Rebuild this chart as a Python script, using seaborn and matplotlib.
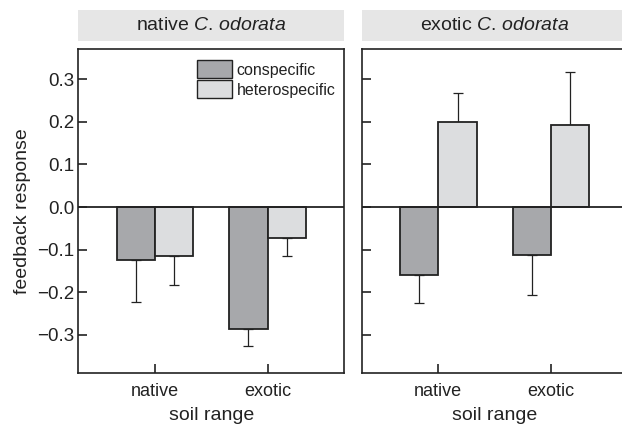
import matplotlib
matplotlib.use("Agg")
import matplotlib.pyplot as plt
import seaborn as sns
import pandas as pd
import numpy as np
from matplotlib.patches import Rectangle

# data
soil_range = ["native", "exotic"]
feedback_type = ["conspecific", "heterospecific"]
panels = ["native", "exotic"]

native_plant_con = [-0.125, -0.286]
native_plant_het = [-0.116, -0.073]
native_plant_con_err = [0.098, 0.039]
native_plant_het_err = [0.066, 0.041]

exotic_plant_con = [-0.160, -0.113]
exotic_plant_het = [0.200, 0.192]
exotic_plant_con_err = [0.065, 0.094]
exotic_plant_het_err = [0.067, 0.124]

y_ticks = [-0.3, -0.2, -0.1, 0.0, 0.1, 0.2, 0.3]

sns.set_style("white")
plt.rcParams["font.family"] = ["Liberation Sans", "DejaVu Sans"]
plt.rcParams["mathtext.fontset"] = "custom"
plt.rcParams["mathtext.rm"] = "Liberation Sans"
plt.rcParams["mathtext.it"] = "Liberation Sans:italic"

ink = "#222222"
colors = {"conspecific": "#a7a8ab", "heterospecific": "#dcdddf"}

fig = plt.figure(figsize=(6.22, 4.26), dpi=100)
W, H = 622, 426
ax_w = 266 / W
bottom = 1 - 373.3 / H
height = (373.3 - 49.3) / H
ax1 = fig.add_axes([78.3 / W, bottom, ax_w, height])
ax2 = fig.add_axes([361.7 / W, bottom, ax_w, height])

panel_data = [
    (ax1, native_plant_con, native_plant_het, native_plant_con_err, native_plant_het_err, "native"),
    (ax2, exotic_plant_con, exotic_plant_het, exotic_plant_con_err, exotic_plant_het_err, "exotic"),
]

for ax, con, het, con_err, het_err, name in panel_data:
    df = pd.DataFrame({
        "soil": soil_range * 2,
        "type": [feedback_type[0]] * 2 + [feedback_type[1]] * 2,
        "response": con + het,
    })
    sns.barplot(data=df, x="soil", y="response", hue="type", order=soil_range,
                hue_order=feedback_type, palette=colors, width=0.68, errorbar=None,
                edgecolor=ink, linewidth=1.3, saturation=1, ax=ax, zorder=2)
    errs = [con_err, het_err]
    vals = [con, het]
    for cont, e, v in zip(ax.containers, errs, vals):
        for bar, ei, vi in zip(cont, e, v):
            x = bar.get_x() + bar.get_width() / 2
            yerr = [[ei], [0]] if vi < 0 else [[0], [ei]]
            ax.errorbar(x, vi, yerr=yerr, fmt="none", ecolor=ink, elinewidth=0.9,
                        capsize=3.5, capthick=0.9, zorder=1)
    ax.axhline(0, color=ink, lw=1.3, zorder=3)
    ax.set_ylim(-0.39, 0.37)
    ax.set_xlim(-0.68, 1.68)
    ax.set_yticks(y_ticks)
    ax.set_xlabel("soil range", fontsize=14, color=ink, labelpad=5)
    ax.tick_params(axis="both", direction="in", length=6.5, width=1.2, color=ink,
                   labelcolor=ink, bottom=True, left=True)
    ax.tick_params(axis="x", labelsize=13, pad=7)
    ax.tick_params(axis="y", labelsize=13.5, pad=3)
    for s in ax.spines.values():
        s.set_color(ink)
        s.set_linewidth(1.2)
    # strip header
    ax.add_patch(Rectangle((0, 1 + 8.6 / 324), 1, 30.7 / 324, transform=ax.transAxes,
                           facecolor="#e6e6e6", edgecolor="none", clip_on=False))
    ax.text(0.5, 1 + 8.6 / 324 + 15.35 / 324, name + r" $\mathit{C.\,odorata}$",
            transform=ax.transAxes, ha="center", va="center", fontsize=14, color=ink)

ax1.set_yticklabels([f"{t:.1f}".replace("-", "\u2212") for t in y_ticks])
ax1.set_ylabel("feedback response", fontsize=14, color=ink, labelpad=4)
ax2.set_yticklabels([])
ax2.set_ylabel("")
ax2.get_legend().remove()

leg = ax1.get_legend()
leg.remove()
handles = [Rectangle((0, 0), 1, 1, facecolor=colors[t], edgecolor=ink, lw=1.0) for t in feedback_type]
ax1.legend(handles, feedback_type, loc="upper left", bbox_to_anchor=(0.446, 0.967),
           frameon=False, fontsize=11.5, handlelength=2.2, handleheight=1.4,
           handletextpad=0.3, labelspacing=0.1, borderpad=0, borderaxespad=0,
           labelcolor=ink)

fig.savefig("out.png", dpi=100)
